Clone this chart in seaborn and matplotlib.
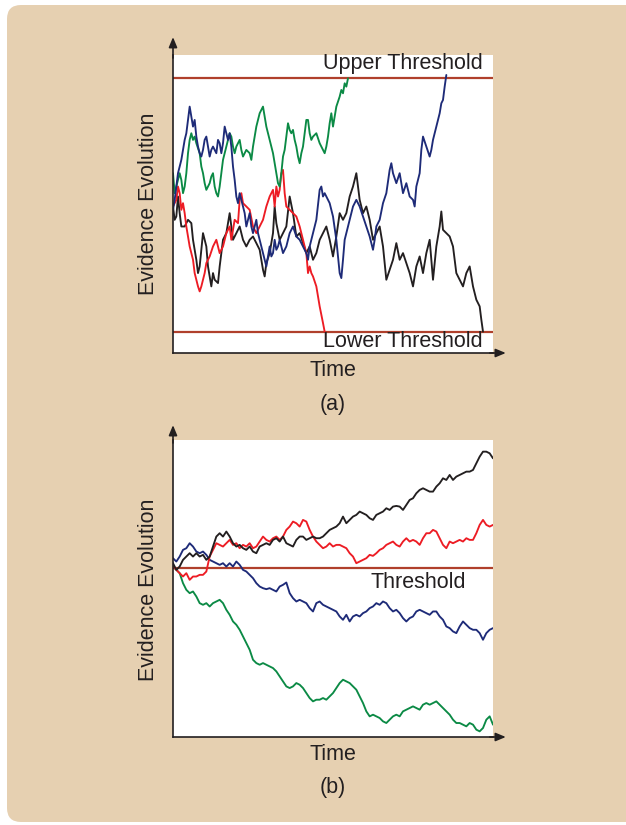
import numpy as np
import pandas as pd
import seaborn as sns
import matplotlib.pyplot as plt
from matplotlib.patches import FancyBboxPatch

# Panel (a): runs as (time, evidence) pairs
black_a = [(0, 0), (0.5, -4), (1, -3), (1.5, 3), (2, -2), (2.5, -6), (3.5, -6), (4.5, -4), (5.5, -5),
           (6, -10), (7, -16), (7.5, -20), (8, -18), (9, -8), (10, -12), (10.5, -18), (11, -21),
           (11.5, -24), (12, -20), (12.5, -22), (13.5, -23), (14, -18), (14.5, -14), (15, -10),
           (16, -8), (17, -2), (17.5, -6), (18, -10), (19, -8), (20, -6), (21, -10), (22, -12),
           (23, -10), (24, -9), (25, -11), (26, -13), (27, -19), (27.5, -21), (28, -17), (29, -14),
           (30, -8), (30.5, 0), (31, -5), (32, -10), (33, -8), (34, -6), (35, 3), (36, -2), (37, -9),
           (38, -8), (39, -11), (40, -14), (41, -12), (42, -16), (43, -14), (44, -10), (45, -8),
           (46, -6), (47, -10), (48, -15), (49, -9), (50, -2), (51, -4), (52, -2), (53, 3), (54, 6),
           (55, 10), (56, 2), (57, -2), (58, 0), (59, -4), (60, -10), (61, -8), (62, -6), (63, -12),
           (64, -22), (65, -19), (66, -16), (67, -11), (68, -16), (69, -14), (70, -17), (71, -20),
           (72, -24), (73, -18), (74, -15), (75, -20), (76, -14), (77, -10), (78, -22), (79, -12),
           (80, -6), (80.5, -1.5), (81, -7), (82, -8), (83, -9), (84, -12), (85, -20), (86, -22),
           (87, -24), (88, -20), (89, -18), (90, -24), (91, -28), (92, -30), (92.5, -34), (93, -37.6)]

red_a = [(0, 0), (1, 2), (1.5, 6), (2, 4), (2.5, -1), (3, 1), (3.5, -2), (4, -6), (5, -12), (6, -16),
         (6.5, -20), (7, -22), (7.5, -24), (8, -25.5), (8.5, -24), (9, -22), (9.5, -20), (10, -17),
         (11, -15), (12, -12), (13, -10), (14, -14), (15, -12), (16, -8), (17, -6), (17.5, -10),
         (18.5, -4), (19.5, -5), (20, 2), (20.5, 4), (21, 1), (22, 0), (23, -1), (24, -6), (25, -8),
         (26, -6), (27, -4), (28, 0), (29, 3), (30, 5), (30.5, 0), (31, 6), (31.5, 3), (32, 5),
         (32.5, 10), (33, 11), (33.5, 4), (34, 0), (35, -1), (36, -2), (37, -3), (38, -6), (39, -10),
         (40, -14), (40.5, -20), (41, -18), (41.5, -20), (42, -21), (43, -24), (44, -30), (45, -35),
         (45.5, -37.6)]

green_a = [(0, 10), (0.5, 4), (1.5, 8), (2, 10), (2.5, 8), (3, 4), (3.5, 6), (4, 10), (4.5, 16),
           (5, 20), (5.5, 22), (6, 20), (6.5, 21), (7, 19), (8, 16), (8.5, 12), (9, 10), (9.5, 7),
           (10, 5), (10.5, 6), (11, 7), (11.5, 9), (12, 10), (12.5, 6), (13, 4), (13.5, 3), (14, 6),
           (14.5, 10), (15, 14), (15.5, 16), (16, 18), (16.5, 20), (17, 22), (17.5, 21), (18, 18),
           (18.5, 16), (19, 18), (20, 20), (20.5, 17), (21, 15), (22, 17), (23, 16), (23.5, 14),
           (24, 18), (24.5, 21), (25, 24), (26, 28), (27, 30), (27.5, 27), (28, 24), (29, 20),
           (30, 16), (30.5, 13), (31, 10), (31.5, 7), (32, 6), (32.5, 10), (33, 15), (33.5, 17),
           (34, 21), (34.5, 25), (35, 23), (35.5, 22), (36, 23), (36.5, 20), (37, 18), (37.5, 15),
           (38, 13), (38.5, 16), (39, 18), (39.5, 22), (40, 26), (40.5, 26), (41, 22), (41.5, 20),
           (42, 21), (43, 22), (44, 19), (45, 17), (45.5, 16), (46, 18), (46.5, 21), (47, 25),
           (47.5, 28), (48, 24), (48.5, 27), (49, 30), (50, 33), (50.5, 35), (51, 34), (51.5, 37),
           (52, 36), (52.5, 38.5)]

blue_a = [(0, -1), (0.5, 2), (1, 6), (1.5, 10), (2, 12), (2.5, 14), (3, 17), (3.5, 20), (4, 22),
          (4.5, 26), (5, 30), (5.5, 27), (6, 24), (6.5, 26), (7, 21), (7.5, 18), (8, 16), (8.5, 15),
          (9, 17), (9.5, 20), (10, 21), (10.5, 18), (11, 15), (11.5, 17), (12, 18), (13, 16),
          (13.5, 20), (14, 19), (14.5, 16), (15, 19), (15.5, 24), (16, 22), (16.5, 20), (17, 22),
          (17.5, 18), (18, 12), (18.5, 8), (19, 3), (19.5, 1), (20, 4), (20.5, 2), (21, 0),
          (21.5, -2), (22, -6), (22.5, -4), (23, -2), (23.5, -6), (24, -8), (24.5, -6), (25, -4),
          (25.5, -8), (26, -10), (26.5, -12), (27, -14), (27.5, -16), (28, -18), (28.5, -15),
          (29, -12), (29.5, -15), (30, -14), (30.5, -10), (31, -13), (31.5, -12), (32, -10),
          (33, -14), (34, -12), (35, -8), (36, -6), (37, -9), (38, -10), (39, -12), (40, -14),
          (40.5, -16), (41, -12), (42, -8), (43, -4), (44, 5), (44.5, 6), (45, 3), (45.5, 4),
          (46, 3), (47, 1), (48, -3), (49, -10), (50, -20), (50.5, -21.5), (51, -16), (51.5, -10),
          (52, -8), (53, -4), (54, 0), (55, 2), (56, 0), (57, -3), (58, -6), (59, -9), (60, -13),
          (60.5, -10), (61, -6), (62, -4), (63, 1), (64, 4), (65, 11), (65.5, 13), (66, 10),
          (67, 7), (68, 10), (69, 4), (70, 7), (71, 3), (72, 2), (72.5, 0), (73, 6), (74, 10),
          (74.5, 17), (75, 21), (76, 18), (77, 15), (77.5, 17), (78, 20), (78.5, 22), (79, 24),
          (80, 28), (80.5, 31), (81, 32), (81.5, 36), (82, 39.5)]

upper_threshold = 38.5
lower_threshold = -37.6

# Panel (b): one sample per time step 0..96
black_b = [1.5, -0.5, 0.5, 2.5, 3.5, 4.5, 3.5, 4.5, 3.5, 4,
           2.5, 3.5, 6.5, 9.5, 10.5, 9.5, 11, 9.5, 7.5, 6.5,
           7, 6, 5.5, 6.5, 5, 4.5, 6.5, 7, 7.5, 7,
           8.5, 9, 8, 9.5, 7.5, 7, 6.5, 8.5, 9.5, 9.5,
           8.5, 9, 9.5, 9, 9, 9.5, 10.5, 11.5, 12, 12.5,
           13.5, 15.5, 13.5, 14.5, 15.5, 16, 17, 16.5, 16, 15,
           14.5, 16, 16.5, 17, 18, 17.5, 18.5, 18.7, 18.5, 17.5,
           19, 20.5, 21, 22.5, 23.5, 24, 23.5, 23, 23, 24.5,
           25.5, 27, 26.5, 28, 26.5, 27.5, 28, 28.5, 29, 29,
           29.5, 31.5, 33.5, 35, 35, 34.5, 33]
red_b = [0.5, -0.5, -1.5, -2.5, -1.5, -3.5, -2.5, -2.5, -2, -2,
         -1, 3.5, 5.5, 7.5, 7, 6.5, 7.5, 8.5, 7, 7.5,
         6, 7, 6.5, 7.5, 6, 6.5, 8, 9.5, 8.5, 8,
         9, 9.5, 8.5, 9.5, 11.5, 12.5, 14, 13.5, 12.5, 14.5,
         14, 11.5, 9.5, 8, 7, 6, 6.5, 7.5, 6.5, 7,
         7, 6.5, 6, 4.5, 3.5, 1.5, 2, 2.5, 3, 4,
         3.7, 4.5, 5.5, 6, 7, 7.5, 8, 7, 6.5, 8,
         9, 8, 8.5, 8, 7, 9, 10.5, 10.5, 11.5, 11,
         9, 7, 6, 8, 7.5, 8, 8.5, 8, 9, 8.5,
         8.5, 10.5, 13, 14.5, 13, 12.5, 13]
blue_b = [3, 2, 3.5, 5.5, 6, 7.5, 6.5, 5, 4.5, 5,
          4, 2.5, 2, 1.5, 1, 1.5, 0.5, 1.5, 0.5, 2,
          1, -0.5, -1, -2, -3, -4.5, -5.5, -6, -6.3, -6,
          -6.5, -7, -5.5, -5, -4.3, -7.5, -9, -10, -9.5, -10,
          -10.5, -12, -13, -10.5, -10, -11, -11.5, -12, -12.5, -13,
          -14.5, -15.5, -14, -16, -14.5, -14, -14.5, -13.5, -13, -12,
          -11.5, -10.5, -11, -10, -10.5, -12, -13, -12.5, -13.5, -15,
          -16, -15, -14.5, -13, -12.5, -13, -13.5, -14, -13, -13,
          -14.5, -15.5, -17.5, -18, -19, -19.5, -17.5, -16, -17, -18,
          -18.5, -18.5, -19.5, -21.5, -19.5, -18.5, -18]
green_b = [0.5, -0.5, -1.5, -4.5, -6.5, -7.5, -7, -8.5, -10.5, -11,
           -10.5, -11.5, -10.5, -10, -9.5, -10.5, -12.5, -14, -16, -17,
           -18.5, -20.5, -22.5, -24.5, -27.5, -28.5, -29, -28.5, -29, -29.5,
           -30, -31, -32.5, -34, -35.5, -36, -35.5, -34.5, -35, -36,
           -37.5, -39, -40, -39.5, -39.5, -39, -39.5, -38.5, -37.5, -36,
           -34.5, -33.5, -34, -34.5, -35.5, -36.5, -38.5, -40.5, -43, -44.5,
           -44, -44.5, -45, -46, -46.5, -45.5, -44.5, -44, -44.5, -43,
           -42.5, -42, -41.5, -42, -42.5, -41, -40.5, -41, -40.5, -40,
           -41, -42, -43, -44, -45.5, -46.5, -46.5, -47, -47.5, -46.5,
           -47, -48.5, -49, -48, -45.5, -44.5, -47]
threshold_b = 0

colors = {'black': '#231F20', 'red': '#ED1C24', 'green': '#0B8A45', 'blue': '#1E2B78'}
thr_color = '#B0402C'
beige = '#E6D0B1'
text_color = '#231F20'
fs = 15.5

# long tables for seaborn
rows = []
for name, run in [('black', black_a), ('red', red_a), ('green', green_a), ('blue', blue_a)]:
    for t, v in run:
        rows.append({'time': t, 'evidence': v, 'run': name})
df_a = pd.DataFrame(rows)

t_b = np.arange(len(black_b))
df_b = pd.concat([
    pd.DataFrame({'time': t_b, 'evidence': vals, 'run': name})
    for name, vals in [('green', green_b), ('blue', blue_b), ('red', red_b), ('black', black_b)]
])

sns.set_style('white')
plt.rcParams['font.family'] = ['Liberation Sans', 'DejaVu Sans']

W, H = 626, 825
fig = plt.figure(figsize=(W / 100, H / 100), dpi=100)
fig.patch.set_facecolor('white')

# beige rounded panel behind everything (pixel coords)
box = FancyBboxPatch((7, 3), 700, 817, boxstyle='round,pad=0,rounding_size=14',
                     transform=None, facecolor=beige, edgecolor='none', zorder=0)
fig.add_artist(box)


def px_axes(left, top, right, bottom):
    return fig.add_axes([left / W, 1 - bottom / H, (right - left) / W, (bottom - top) / H])


def style_axes(ax, top_ext, right_ext):
    ax.set_facecolor('white')
    for s in ['top', 'right']:
        ax.spines[s].set_visible(False)
    for s in ['left', 'bottom']:
        ax.spines[s].set_color(text_color)
        ax.spines[s].set_linewidth(1.2)
    ax.set_xticks([])
    ax.set_yticks([])
    ax.set_xlabel('')
    ax.set_ylabel('')
    arrow = dict(arrowstyle='-|>,head_length=0.6,head_width=0.25', color=text_color, lw=1.2,
                 shrinkA=0, shrinkB=0)
    ax.annotate('', xy=(0, top_ext), xytext=(0, 0.99), xycoords='axes fraction',
                arrowprops=arrow, annotation_clip=False)
    ax.annotate('', xy=(right_ext, 0), xytext=(0.99, 0), xycoords='axes fraction',
                arrowprops=arrow, annotation_clip=False)


# ---- panel (a)
ax1 = px_axes(173, 55, 493, 353)
sns.lineplot(data=df_a, x='time', y='evidence', hue='run', palette=colors, estimator=None,
             sort=False, legend=False, lw=1.35, ax=ax1)
ax1.axhline(upper_threshold, color=thr_color, lw=1.6, zorder=1)
ax1.axhline(lower_threshold, color=thr_color, lw=1.6, zorder=1)
ax1.set_xlim(0, 96)
ax1.set_ylim(-44, 45.5)
style_axes(ax1, 1.06, 1.04)
ax1.text(93, 43.0, 'Upper Threshold', ha='right', va='center', fontsize=fs, color=text_color)
ax1.text(93, -40.6, 'Lower Threshold', ha='right', va='center', fontsize=fs, color=text_color)

# ---- panel (b)
ax2 = px_axes(173, 440, 493, 737)
sns.lineplot(data=df_b, x='time', y='evidence', hue='run', palette=colors, estimator=None,
             sort=False, legend=False, lw=1.35, ax=ax2)
ax2.axhline(threshold_b, color=thr_color, lw=1.6, zorder=1)
ax2.set_xlim(0, 96)
ax2.set_ylim(-50.7, 38.5)
style_axes(ax2, 1.05, 1.04)
ax2.text(87.8, -4.4, 'Threshold', ha='right', va='center', fontsize=fs, color=text_color)


# labels in pixel positions
def ftext(x, y, s, **kw):
    fig.text(x / W, 1 - y / H, s, ha='center', va='center', fontsize=fs, color=text_color, **kw)


ftext(333, 370, 'Time')
ftext(333, 404, '(a)')
ftext(148, 204, 'Evidence Evolution', rotation=90)
ftext(333, 755, 'Time')
ftext(333, 787, '(b)')
ftext(148, 590, 'Evidence Evolution', rotation=90)

fig.savefig('out.png', dpi=100, facecolor='white')
